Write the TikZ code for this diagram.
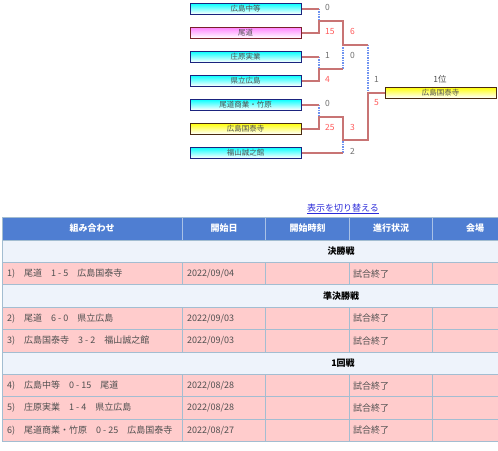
\documentclass[tikz,border=0pt]{standalone}
\usepackage{fontspec}
\setmainfont{Noto Sans CJK JP}
\usetikzlibrary{positioning, calc}
\definecolor{cline}{HTML}{C87474}
\definecolor{cdot}{HTML}{6F93F0}
\definecolor{cscore}{HTML}{FF5A5A}
\definecolor{cgrey}{HTML}{6E6E6E}
\definecolor{cnavy}{HTML}{1A237E}
\definecolor{cmaroon}{HTML}{7A1F2B}
\definecolor{cbrown}{HTML}{4A2A10}
\definecolor{chead}{HTML}{4F7ED2}
\definecolor{cheadrule}{HTML}{A9C1E6}
\definecolor{cband}{HTML}{EEF3FB}
\definecolor{cpink}{HTML}{FFCCCC}
\definecolor{cgrid}{HTML}{A3BDD1}
\definecolor{clink}{HTML}{2B2BD9}
\definecolor{ctext}{HTML}{505050}
\tikzset{
  team/.style={draw=#1, line width=1pt, minimum width=111pt, minimum height=11pt, inner sep=0pt,
    font=\fontsize{7.5}{8}\selectfont, text=ctext},
  cyanteam/.style={team=cnavy, top color=cyan, bottom color=white},
  pinkteam/.style={team=cmaroon, top color=magenta!50, bottom color=white},
  goldteam/.style={team=cbrown, top color=yellow, bottom color=white},
  win/.style={draw=cline, line width=2pt},
  lose/.style={draw=cdot, line width=1.2pt, dash pattern=on 1.5pt off 1pt},
  score/.style={anchor=west, inner sep=0pt, font=\fontsize{8.5}{9}\selectfont, text=#1},
  score/.default=cgrey,
  cell/.style={anchor=west, inner sep=0pt, font=\fontsize{9}{10}\selectfont, text=ctext},
  head/.style={inner sep=0pt, font=\fontsize{9}{10}\selectfont\bfseries, text=white},
  round/.style={inner sep=0pt, font=\fontsize{9}{10}\selectfont\bfseries, text=black},
}

\begin{document}
\begin{tikzpicture}[x=1pt, y=-1pt]
  \useasboundingbox (0,0) rectangle (498,450);
  % bracket
  \node[cyanteam] (t1) at (245.5, 8.5) {広島中等};
  \node[pinkteam] (t2) at (245.5, 32.5) {尾道};
  \node[cyanteam] (t3) at (245.5, 56.5) {庄原実業};
  \node[cyanteam] (t4) at (245.5, 80.5) {県立広島};
  \node[cyanteam] (t5) at (245.5, 104.5) {尾道商業・竹原};
  \node[goldteam] (t6) at (245.5, 128.5) {広島国泰寺};
  \node[cyanteam] (t7) at (245.5, 152.5) {福山誠之館};
  \node[goldteam] (fin) at (440.5, 92.5) {広島国泰寺};
  \node[inner sep=0pt, font=\fontsize{8.5}{9}\selectfont, text=ctext] (rank) at (440, 79) {1位};
  \coordinate (m1) at (319, 20.5);
  \coordinate (m2) at (319, 68.5);
  \coordinate (m3) at (319, 116.5);
  \coordinate (s1) at (343, 44.5);
  \coordinate (s2) at (343, 140);
  \coordinate (f1) at (368, 92.5);
  \draw[lose] (t1.east -| m1) -- (m1);
  \draw[lose] (s1 -| f1) -- (f1);
  \draw[lose] (t3.east -| m2) -- (m2);
  \draw[lose] (m2 -| s1) -- (s1);
  \draw[lose] (t5.east -| m3) -- (m3);
  \draw[lose] (t7.east -| s2) -- (s2);
  \draw[win] (t1.east) -- (t1.east -| m1);
  \draw[win] (t2.east) -| (m1) -| (s1) -- (s1 -| f1);
  \draw[win] (t3.east) -- (t3.east -| m2);
  \draw[win] (t4.east) -| (m2) -- (m2 -| s1);
  \draw[win] (t5.east) -- (t5.east -| m3);
  \draw[win] (t6.east) -| (m3) -| (s2) -| (f1) -- (fin.west);
  \draw[win] (t7.east) -- (t7.east -| s2);
  \node[score] (r1a) at (325, 7.5) {0};
  \node[score=cscore] (r1b) at (325, 31.5) {15};
  \node[score] (r1c) at (325, 55.5) {1};
  \node[score=cscore] (r1d) at (325, 79.5) {4};
  \node[score] (r1e) at (325, 103.5) {0};
  \node[score=cscore] (r1f) at (325, 127.5) {25};
  \node[score=cscore] (r2a) at (350, 31.5) {6};
  \node[score] (r2b) at (350, 55.5) {0};
  \node[score=cscore] (r2c) at (350, 127.5) {3};
  \node[score] (r2d) at (350, 151.5) {2};
  \node[score] (r3a) at (374, 79) {1};
  \node[score=cscore] (r3b) at (374, 103) {5};
  % table
  \node[inner sep=0pt, font=\fontsize{9}{10}\selectfont, text=clink] (toggle) at (343, 209) {\underline{表示を切り替える}};
  \fill[chead] (2,217) rectangle (498,240);
  \fill[cband] (2,240) rectangle (498,262.4);
  \fill[cpink] (2,262.4) rectangle (498,284.8);
  \fill[cband] (2,284.8) rectangle (498,307.2);
  \fill[cpink] (2,307.2) rectangle (498,352);
  \fill[cband] (2,352) rectangle (498,374.4);
  \fill[cpink] (2,374.4) rectangle (498,441.6);
  \draw[cheadrule, line width=1pt] (182.3,217) -- (182.3,240) (265.7,217) -- (265.7,240)
    (349.3,217) -- (349.3,240) (432.3,217) -- (432.3,240);
  \foreach \y/\z in {262.4/284.8, 307.2/352, 374.4/441.6}
    \draw[cgrid, line width=1pt] (182.3,\y) -- (182.3,\z) (265.7,\y) -- (265.7,\z)
      (349.3,\y) -- (349.3,\z) (432.3,\y) -- (432.3,\z);
  \foreach \y in {217, 240, 262.4, 284.8, 307.2, 329.6, 352, 374.4, 396.8, 419.2, 441.6}
    \draw[cgrid, line width=1pt] (2,\y) -- (498,\y);
  \draw[cgrid, line width=1pt] (2,217) -- (2,441.6);
  \node[head] (h1) at (92, 228.5) {組み合わせ};
  \node[head] (h2) at (224, 228.5) {開始日};
  \node[head] (h3) at (307.5, 228.5) {開始時刻};
  \node[head] (h4) at (391, 228.5) {進行状況};
  \node[head] (h5) at (475, 228.5) {会場};
  \node[round] (sec1) at (341, 251.2) {決勝戦};
  \node[round] (sec2) at (341, 296) {準決勝戦};
  \node[round] (sec3) at (343, 363.2) {1回戦};
  \node[cell] (g1) at (7, 273.6) {1)　尾道　1 - 5　広島国泰寺};
  \node[cell] (g2) at (7, 318.4) {2)　尾道　6 - 0　県立広島};
  \node[cell] (g3) at (7, 340.8) {3)　広島国泰寺　3 - 2　福山誠之館};
  \node[cell] (g4) at (7, 385.6) {4)　広島中等　0 - 15　尾道};
  \node[cell] (g5) at (7, 408) {5)　庄原実業　1 - 4　県立広島};
  \node[cell] (g6) at (7, 430.4) {6)　尾道商業・竹原　0 - 25　広島国泰寺};
  \node[cell] (d1) at (187, 273.6) {2022/09/04};
  \node[cell] (d2) at (187, 318.4) {2022/09/03};
  \node[cell] (d3) at (187, 340.8) {2022/09/03};
  \node[cell] (d4) at (187, 385.6) {2022/08/28};
  \node[cell] (d5) at (187, 408) {2022/08/28};
  \node[cell] (d6) at (187, 430.4) {2022/08/27};
  \node[cell] (st1) at (353, 273.6) {試合終了};
  \node[cell] (st2) at (353, 318.4) {試合終了};
  \node[cell] (st3) at (353, 340.8) {試合終了};
  \node[cell] (st4) at (353, 385.6) {試合終了};
  \node[cell] (st5) at (353, 408) {試合終了};
  \node[cell] (st6) at (353, 430.4) {試合終了};
\end{tikzpicture}
\end{document}
